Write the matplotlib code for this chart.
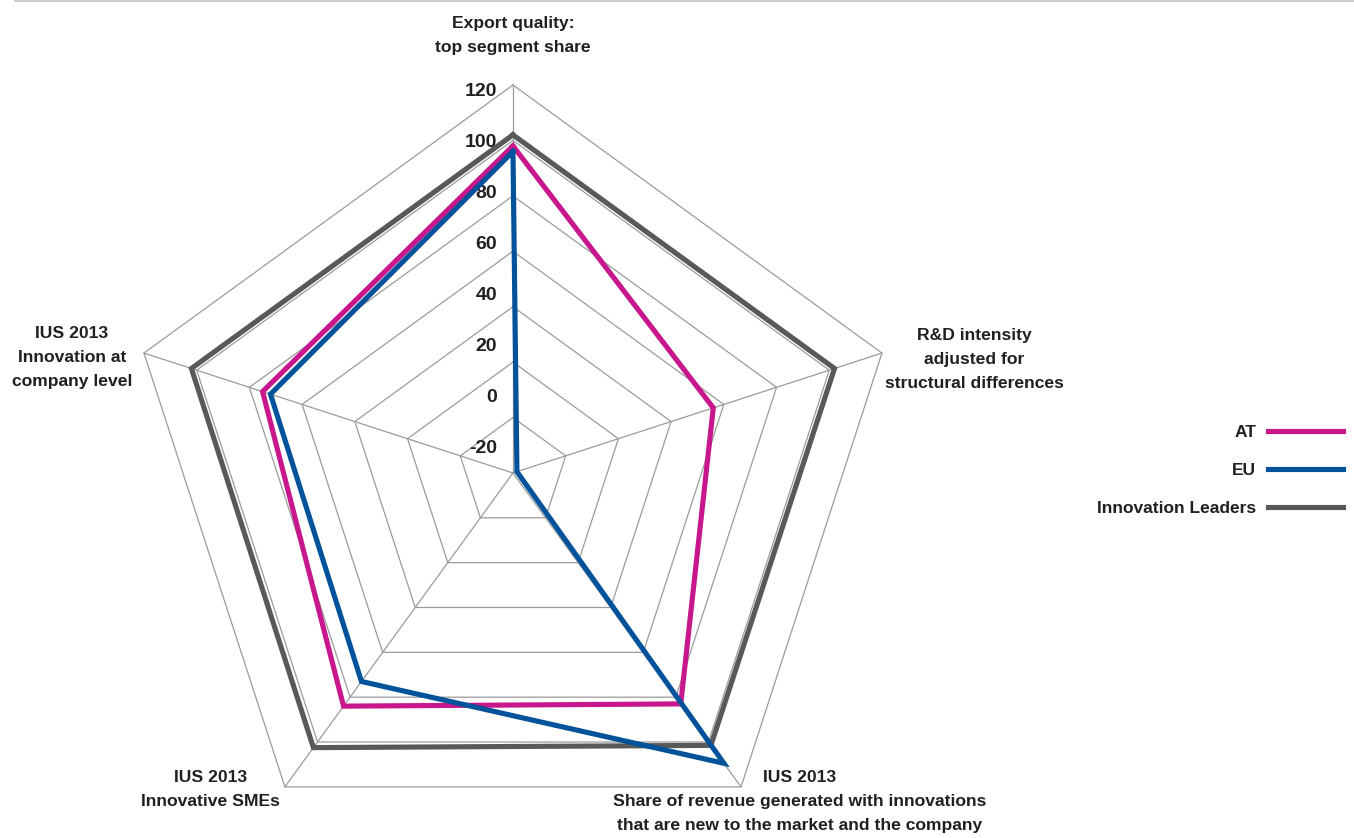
import numpy as np
import matplotlib.pyplot as plt
from matplotlib.lines import Line2D

# five indicators, clockwise from the top
categories = ["Export quality:\ntop segment share",
              "R&D intensity\nadjusted for\nstructural differences",
              "IUS 2013\nShare of revenue generated with innovations\nthat are new to the market and the company",
              "IUS 2013\nInnovative SMEs",
              "IUS 2013\nInnovation at\ncompany level"]
at_values = [98, 56, 83, 84, 75]
eu_values = [96, -18.5, 109.5, 73, 72]
leaders_values = [102, 102, 101.5, 102.5, 102]
ticks = [-20, 0, 20, 40, 60, 80, 100, 120]

plt.rcParams['font.family'] = ['Liberation Sans', 'DejaVu Sans']
plt.rcParams['font.weight'] = 'bold'
txt_color = '#231f20'

fig = plt.figure(figsize=(13.54, 8.38), dpi=100)
ax = fig.add_axes([0.0923, -0.0274, 0.5731, 0.926], projection='polar')
ax.set_theta_offset(np.pi / 2)
ax.set_theta_direction(-1)
ax.set_ylim(-20, 120)
ax.axis('off')

angles = np.linspace(0, 2 * np.pi, len(categories), endpoint=False)
closed = np.append(angles, angles[0])

def close(vals):
    return list(vals) + [vals[0]]

# pentagon grid
for t in ticks[1:]:
    ax.plot(closed, [t] * len(closed), color='#9b9b9b', lw=0.9, zorder=1, clip_on=False)
for a in angles:
    ax.plot([a, a], [-20, 120], color='#9b9b9b', lw=0.9, zorder=1, clip_on=False)

# series
ax.plot(closed, close(at_values), color='#c8168c', lw=3.7, label='AT', zorder=3,
        clip_on=False, solid_joinstyle='miter')
ax.plot(closed, close(eu_values), color='#00529b', lw=3.7, label='EU', zorder=4,
        clip_on=False, solid_joinstyle='miter')
ax.plot(closed, close(leaders_values), color='#58595b', lw=3.7, label='Innovation Leaders',
        zorder=2, clip_on=False, solid_joinstyle='miter')

# value labels along the top spoke
lab_r = -11 + (np.array(ticks) + 20) * 0.92
for t, r in zip(ticks, lab_r):
    ax.annotate(str(t), xy=(0, r), xytext=(-16, 0), textcoords='offset pixels',
                ha='right', va='center', fontsize=14, color=txt_color, annotation_clip=False)

# indicator names around the chart
offsets = [(0, 49), (92, -6), (59, -15), (-74, -3), (-72, -4)]
for a, name, off in zip(angles, categories, offsets):
    ax.annotate(name, xy=(a, 120), xytext=off, textcoords='offset pixels',
                ha='center', va='center', multialignment='center', linespacing=1.75,
                fontsize=12.6, color=txt_color, annotation_clip=False)

leg = ax.legend(loc='center right', bbox_to_anchor=(1343 / 1354, 1 - 470.5 / 838),
                bbox_transform=fig.transFigure, markerfirst=False, frameon=False,
                fontsize=12.5, handlelength=4.3, handletextpad=0.7,
                labelspacing=1.3, borderpad=0, borderaxespad=0)
for t in leg.get_texts():
    t.set_color(txt_color)

# thin rule along the top edge
fig.add_artist(Line2D([15 / 1354, 1], [1 - 1.5 / 838] * 2, transform=fig.transFigure,
                      color='#c4c4c4', lw=1.2))

fig.savefig('out.png', dpi=100)
